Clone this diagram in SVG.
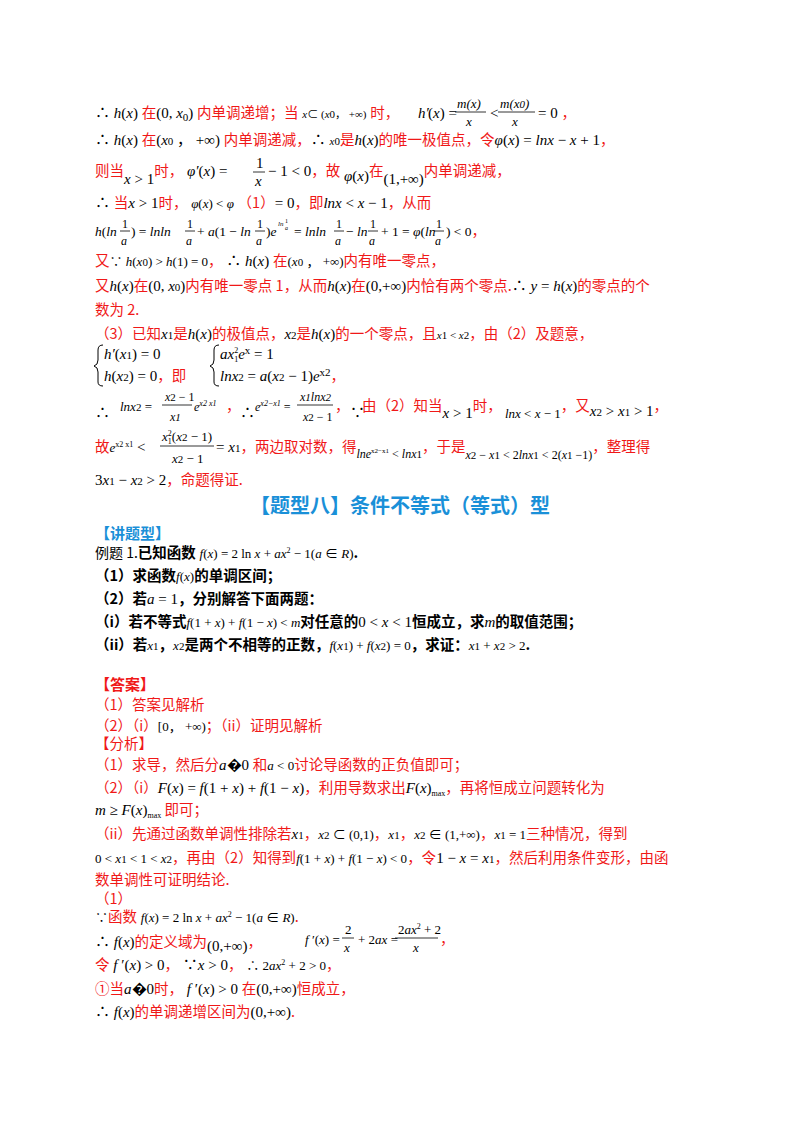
<svg xmlns="http://www.w3.org/2000/svg" width="800" height="1132" viewBox="0 0 800 1132" font-size="15">
<style>
text{font-family:"Liberation Serif","Noto Sans CJK SC",serif;fill:#000}
.r{fill:#f01818;font-family:"Noto Sans CJK SC",sans-serif;font-size:14.5px}
.m{font-style:italic}
.s{font-size:11px}
.b{font-weight:bold;font-family:"Noto Sans CJK SC",sans-serif;font-size:14.5px}
.bl{fill:#1a90d8;font-weight:bold;font-family:"Noto Sans CJK SC",sans-serif}
.f{font-size:12px}
line{stroke:#000;stroke-width:0.8}
.br{fill:none;stroke:#000;stroke-width:1}
</style>
<rect width="800" height="1132" fill="#fff"/>
<!-- line 1 -->
<text x="95" y="118">∴ <tspan class="m">h</tspan>(<tspan class="m">x</tspan>) <tspan class="r">在</tspan>(0, <tspan class="m">x</tspan><tspan class="s" dy="3">0</tspan><tspan dy="-3">)</tspan> <tspan class="r">内单调递增；当</tspan> <tspan class="m s">x</tspan><tspan class="s">⊂ (</tspan><tspan class="m s">x</tspan><tspan class="s">0，  +∞)</tspan> <tspan class="r">时，</tspan></text>
<text x="418" y="118" class="m">h′</text><text x="428" y="118">(<tspan class="m">x</tspan>) =</text>
<text x="457" y="108" class="m" font-size="13">m(x)</text><line x1="455" y1="112" x2="486" y2="112"/><text x="466" y="126" class="m" font-size="13">x</text>
<text x="490" y="118">&lt;</text>
<text x="500" y="108" class="m" font-size="13">m(x<tspan class="s">0</tspan>)</text><line x1="498" y1="112" x2="535" y2="112"/><text x="512" y="126" class="m" font-size="13">x</text>
<text x="538" y="118">= 0 <tspan class="r">，</tspan></text>
<!-- line 2 -->
<text x="95" y="145">∴ <tspan class="m">h</tspan>(<tspan class="m">x</tspan>) <tspan class="r">在</tspan>(<tspan class="m">x</tspan><tspan class="s">0</tspan> ，  +∞) <tspan class="r">内单调递减，</tspan>∴ <tspan class="m s">x</tspan><tspan class="s">0</tspan><tspan class="r">是</tspan><tspan class="m">h</tspan>(<tspan class="m">x</tspan>)<tspan class="r">的唯一极值点，令</tspan><tspan class="m">φ</tspan>(<tspan class="m">x</tspan>) = <tspan class="m">lnx</tspan> − <tspan class="m">x</tspan> + 1<tspan class="r">，</tspan></text>
<!-- line 3 -->
<text x="95" y="176"><tspan class="r">则当</tspan><tspan dy="8"><tspan class="m">x</tspan> &gt; 1</tspan><tspan dy="-8" class="r">时，</tspan> <tspan class="m">φ′</tspan>(<tspan class="m">x</tspan>) =</text>
<text x="256" y="168">1</text><line x1="253" y1="172" x2="265" y2="172"/><text x="255" y="186" class="m">x</text>
<text x="268" y="176">− 1 &lt; 0<tspan class="r">，故</tspan><tspan dy="5" class="m"> φ</tspan><tspan>(</tspan><tspan class="m">x</tspan>)<tspan dy="-5" class="r">在</tspan><tspan dy="8">(1,+∞)</tspan><tspan dy="-8" class="r">内单调递减，</tspan></text>
<!-- line 4 -->
<text x="95" y="208">∴ <tspan class="r">当</tspan><tspan class="m">x</tspan> &gt; 1<tspan class="r">时，</tspan> <tspan class="m" font-size="13">φ</tspan><tspan font-size="13">(</tspan><tspan class="m" font-size="13">x</tspan><tspan font-size="13">) &lt; </tspan><tspan class="m" font-size="13">φ</tspan> <tspan class="r">（1）</tspan>= 0<tspan class="r">，即</tspan><tspan class="m">lnx</tspan> &lt; <tspan class="m">x</tspan> − 1<tspan class="r">，从而</tspan></text>
<!-- line 5 -->
<g font-size="13.5">
<text x="95" y="236"><tspan class="m">h</tspan>(<tspan class="m">ln</tspan></text>
<text x="131" y="236">) = <tspan class="m">lnln</tspan></text>
<text x="197" y="236">+ <tspan class="m">a</tspan>(1 − <tspan class="m">ln</tspan></text>
<text x="266" y="236">)<tspan class="m">e</tspan></text>
<text x="278" y="226" font-size="7" class="m">ln</text><text x="285" y="223" font-size="6">1</text><text x="285" y="230" font-size="6" class="m">a</text>
<text x="294" y="236">= <tspan class="m">lnln</tspan></text>
<text x="346" y="236">− <tspan class="m">ln</tspan></text>
<text x="381" y="236">+ 1 = <tspan class="m">φ</tspan>(<tspan class="m">ln</tspan></text>
<text x="446" y="236">) &lt; 0<tspan class="r">，</tspan></text>
<text x="122" y="228" class="f">1</text><line x1="120" y1="231" x2="130" y2="231"/><text x="121" y="245" class="m f">a</text>
<text x="187" y="228" class="f">1</text><line x1="185" y1="231" x2="195" y2="231"/><text x="186" y="245" class="m f">a</text>
<text x="257" y="228" class="f">1</text><line x1="255" y1="231" x2="265" y2="231"/><text x="256" y="245" class="m f">a</text>
<text x="336" y="228" class="f">1</text><line x1="334" y1="231" x2="344" y2="231"/><text x="335" y="245" class="m f">a</text>
<text x="370" y="228" class="f">1</text><line x1="368" y1="231" x2="378" y2="231"/><text x="369" y="245" class="m f">a</text>
<text x="436" y="228" class="f">1</text><line x1="434" y1="231" x2="444" y2="231"/><text x="435" y="245" class="m f">a</text>
</g>
<!-- line 6 -->
<text x="95" y="266"><tspan class="r">又</tspan><tspan font-size="13">∵ <tspan class="m">h</tspan>(<tspan class="m">x</tspan><tspan class="s">0</tspan>) &gt; <tspan class="m">h</tspan>(1) = 0</tspan><tspan class="r">，</tspan> ∴ <tspan class="m">h</tspan>(<tspan class="m">x</tspan>) <tspan class="r">在</tspan><tspan font-size="13">(<tspan class="m">x</tspan><tspan class="s">0</tspan> ，  +∞)</tspan><tspan class="r">内有唯一零点，</tspan></text>
<!-- line 7 -->
<text x="95" y="291"><tspan class="r">又</tspan><tspan class="m">h</tspan>(<tspan class="m">x</tspan>)<tspan class="r">在</tspan>(0, <tspan class="m">x</tspan><tspan class="s">0</tspan>)<tspan class="r">内有唯一零点 1，从而</tspan><tspan class="m">h</tspan>(<tspan class="m">x</tspan>)<tspan class="r">在</tspan>(0,+∞)<tspan class="r">内恰有两个零点.</tspan>∴ <tspan class="m">y</tspan> = <tspan class="m">h</tspan>(<tspan class="m">x</tspan>)<tspan class="r">的零点的个</tspan></text>
<text x="95" y="315" class="r">数为 2.</text>
<!-- (3) -->
<text x="95" y="339"><tspan class="r">（3）已知</tspan><tspan class="m">x</tspan><tspan class="s">1</tspan><tspan class="r">是</tspan><tspan class="m">h</tspan>(<tspan class="m">x</tspan>)<tspan class="r">的极值点，</tspan><tspan class="m">x</tspan><tspan class="s">2</tspan><tspan class="r">是</tspan><tspan class="m">h</tspan>(<tspan class="m">x</tspan>)<tspan class="r">的一个零点，且</tspan><tspan class="m s">x</tspan><tspan class="s">1 &lt; </tspan><tspan class="m s">x</tspan><tspan class="s">2</tspan><tspan class="r">，由（2）及题意，</tspan></text>
<path class="br" d="M103 345 Q98 345 98 350 L98 360 Q98 365 94 366 Q98 367 98 372 L98 382 Q98 386 103 386"/>
<text x="104" y="359"><tspan class="m">h′</tspan>(<tspan class="m">x</tspan><tspan class="s">1</tspan>) = 0</text>
<text x="104" y="381"><tspan class="m">h</tspan>(<tspan class="m">x</tspan><tspan class="s">2</tspan>) = 0<tspan class="r">，即</tspan></text>
<path class="br" d="M219 345 Q214 345 214 350 L214 360 Q214 365 210 366 Q214 367 214 372 L214 382 Q214 386 219 386"/>
<text x="220" y="359"><tspan class="m">ax</tspan><tspan font-size="8" dy="-6">2</tspan><tspan font-size="8" dx="-4" dy="9">1</tspan><tspan class="m" dy="-3">e</tspan><tspan class="s" dy="-5">x</tspan><tspan dy="5">  = 1</tspan></text>
<text x="220" y="381"><tspan class="m">lnx</tspan><tspan class="s">2</tspan> = <tspan class="m">a</tspan>(<tspan class="m">x</tspan><tspan class="s">2</tspan> − 1)<tspan class="m">e</tspan><tspan class="s" dy="-5">x2</tspan><tspan dy="5" class="r">，</tspan></text>
<!-- line 11 -->
<text x="95" y="418">∴</text>
<text x="120" y="411" font-size="13"><tspan class="m">lnx</tspan><tspan class="s">2</tspan> =</text>
<text x="165" y="401" font-size="12"><tspan class="m">x</tspan><tspan class="s">2</tspan> − 1</text><line x1="162" y1="405" x2="192" y2="405"/><text x="170" y="421" font-size="12" class="m">x<tspan class="s">1</tspan></text>
<text x="194" y="411" font-size="12" class="m">e<tspan font-size="8" dy="-5">x2  x1</tspan></text>
<text x="226" y="411" class="r">，</text>
<text x="240" y="418">∴</text>
<text x="255" y="411" font-size="12" class="m">e<tspan font-size="8" dy="-5">x2−x1</tspan><tspan dy="5" font-style="normal"> =</tspan></text>
<text x="300" y="401" font-size="12" class="m">x<tspan class="s">1</tspan>lnx<tspan class="s">2</tspan></text><line x1="297" y1="405" x2="333" y2="405"/><text x="303" y="421" font-size="12"><tspan class="m">x</tspan><tspan class="s">2</tspan> − 1</text>
<text x="335" y="411" class="r">，</text>
<text x="350" y="418">∵</text>
<text x="362" y="411"><tspan class="r">由（2）知当</tspan><tspan dy="7"><tspan class="m">x</tspan> &gt; 1</tspan><tspan dy="-7" class="r">时，</tspan><tspan dy="7" font-size="13"> <tspan class="m">lnx</tspan> &lt; <tspan class="m">x</tspan> − 1</tspan><tspan dy="-7" class="r">，又</tspan><tspan dy="5"><tspan class="m">x</tspan><tspan class="s">2</tspan> &gt; <tspan class="m">x</tspan><tspan class="s">1</tspan> &gt; 1</tspan><tspan dy="-5" class="r">，</tspan></text>
<!-- line 12 -->
<text x="95" y="452"><tspan class="r">故</tspan><tspan class="m" font-size="13">e</tspan><tspan font-size="8" dy="-5">x2  x1</tspan><tspan dy="5"> &lt;</tspan></text>
<text x="162" y="441" font-size="13"><tspan class="m">x</tspan><tspan font-size="8" dy="-5">2</tspan><tspan font-size="8" dx="-4" dy="8">1</tspan><tspan dy="-3">(</tspan><tspan class="m">x</tspan><tspan class="s">2</tspan> − 1)</text><line x1="160" y1="446" x2="214" y2="446"/><text x="172" y="463" font-size="13"><tspan class="m">x</tspan><tspan class="s">2</tspan> − 1</text>
<text x="216" y="452">= <tspan class="m">x</tspan><tspan class="s">1</tspan><tspan class="r">，两边取对数，得</tspan><tspan font-size="12" dy="6"><tspan class="m">lne</tspan><tspan font-size="7" dy="-5">x2−x1</tspan><tspan dy="5"> &lt; </tspan><tspan class="m">lnx</tspan><tspan class="s">1</tspan></tspan><tspan dy="-6" class="r">，于是</tspan><tspan font-size="12" dy="7"><tspan class="m">x</tspan><tspan class="s">2</tspan> − <tspan class="m">x</tspan><tspan class="s">1</tspan> &lt; 2<tspan class="m">lnx</tspan><tspan class="s">1</tspan> &lt; 2(<tspan class="m">x</tspan><tspan class="s">1</tspan> −1)</tspan><tspan dy="-7" class="r">，整理得</tspan></text>
<text x="95" y="485">3<tspan class="m">x</tspan><tspan class="s">1</tspan> − <tspan class="m">x</tspan><tspan class="s">2</tspan> &gt; 2<tspan class="r">，命题得证.</tspan></text>
<!-- title -->
<text x="400" y="513" class="bl" font-size="20" text-anchor="middle">【题型八】条件不等式（等式）型</text>
<text x="95" y="539" class="bl" font-size="15">【讲题型】</text>
<text x="95" y="558"><tspan font-family="Noto Sans CJK SC" font-size="14">例题 1.</tspan><tspan class="b">已知函数</tspan> <tspan class="m" font-size="13">f</tspan><tspan font-size="13">(</tspan><tspan class="m" font-size="13">x</tspan><tspan font-size="13">) = 2 ln </tspan><tspan class="m" font-size="13">x</tspan><tspan font-size="13"> + </tspan><tspan class="m" font-size="13">ax</tspan><tspan font-size="8" dy="-5">2</tspan><tspan font-size="13" dy="5"> − 1(</tspan><tspan class="m" font-size="13">a</tspan><tspan font-size="13"> ∈ </tspan><tspan class="m" font-size="13">R</tspan><tspan font-size="13">)</tspan><tspan class="b">.</tspan></text>
<text x="95" y="581"><tspan class="b">（1）求函数</tspan><tspan class="m" font-size="13">f</tspan><tspan font-size="13">(</tspan><tspan class="m" font-size="13">x</tspan><tspan font-size="13">)</tspan><tspan class="b">的单调区间；</tspan></text>
<text x="95" y="604"><tspan class="b">（2）若</tspan><tspan class="m">a</tspan> = 1<tspan class="b">，分别解答下面两题：</tspan></text>
<text x="95" y="627"><tspan class="b">（i）若不等式</tspan><tspan font-size="13"><tspan class="m">f</tspan>(1 + <tspan class="m">x</tspan>) + <tspan class="m">f</tspan>(1 − <tspan class="m">x</tspan>) &lt; <tspan class="m">m</tspan></tspan><tspan class="b">对任意的</tspan>0 &lt; <tspan class="m">x</tspan> &lt; 1<tspan class="b">恒成立，求</tspan><tspan class="m">m</tspan><tspan class="b">的取值范围；</tspan></text>
<text x="95" y="650"><tspan class="b">（ii）若</tspan><tspan class="m" font-size="13">x</tspan><tspan class="s">1</tspan><tspan class="b">，</tspan><tspan class="m" font-size="13">x</tspan><tspan class="s">2</tspan><tspan class="b">是两个不相等的正数，</tspan><tspan font-size="13"><tspan class="m">f</tspan>(<tspan class="m">x</tspan><tspan class="s">1</tspan>) + <tspan class="m">f</tspan>(<tspan class="m">x</tspan><tspan class="s">2</tspan>) = 0</tspan><tspan class="b">，求证：</tspan><tspan font-size="13"><tspan class="m">x</tspan><tspan class="s">1</tspan> + <tspan class="m">x</tspan><tspan class="s">2</tspan> &gt; 2</tspan><tspan class="b">.</tspan></text>
<text x="95" y="690" class="r" font-weight="bold" style="font-size:15px">【答案】</text>
<text x="95" y="710" class="r">（1）答案见解析</text>
<text x="95" y="731"><tspan class="r">（2）（i）</tspan><tspan font-size="13">[0，  +∞)</tspan><tspan class="r">；（ii）证明见解析</tspan></text>
<text x="95" y="749" class="r">【分析】</text>
<text x="95" y="770"><tspan class="r">（1）求导，然后分</tspan><tspan class="m">a</tspan>�0 <tspan class="r">和</tspan><tspan font-size="13"><tspan class="m">a</tspan> &lt; 0</tspan><tspan class="r">讨论导函数的正负值即可；</tspan></text>
<text x="95" y="793"><tspan class="r">（2）（i）</tspan><tspan class="m">F</tspan>(<tspan class="m">x</tspan>) = <tspan class="m">f</tspan>(1 + <tspan class="m">x</tspan>) + <tspan class="m">f</tspan>(1 − <tspan class="m">x</tspan>)<tspan class="r">，利用导数求出</tspan><tspan class="m">F</tspan>(<tspan class="m">x</tspan>)<tspan font-size="8" dy="3">max</tspan><tspan dy="-3" class="r">，再将恒成立问题转化为</tspan></text>
<text x="95" y="815"><tspan class="m">m</tspan> ≥ <tspan class="m">F</tspan>(<tspan class="m">x</tspan>)<tspan font-size="8" dy="3">max</tspan><tspan dy="-3" class="r"> 即可；</tspan></text>
<text x="95" y="839"><tspan class="r">（ii）先通过函数单调性排除若</tspan><tspan class="m">x</tspan><tspan class="s">1</tspan><tspan class="r">，</tspan><tspan font-size="13"><tspan class="m">x</tspan><tspan class="s">2</tspan> ⊂ (0,1)</tspan><tspan class="r">，</tspan><tspan class="m" font-size="13">x</tspan><tspan class="s">1</tspan><tspan class="r">，</tspan><tspan font-size="13"><tspan class="m">x</tspan><tspan class="s">2</tspan> ∈ (1,+∞)</tspan><tspan class="r">，</tspan><tspan font-size="13"><tspan class="m">x</tspan><tspan class="s">1</tspan> = 1</tspan><tspan class="r">三种情况，得到</tspan></text>
<text x="95" y="863"><tspan font-size="13">0 &lt; <tspan class="m">x</tspan><tspan class="s">1</tspan> &lt; 1 &lt; <tspan class="m">x</tspan><tspan class="s">2</tspan></tspan><tspan class="r">，再由（2）知得到</tspan><tspan font-size="13"><tspan class="m">f</tspan>(1 + <tspan class="m">x</tspan>) + <tspan class="m">f</tspan>(1 − <tspan class="m">x</tspan>) &lt; 0</tspan><tspan class="r">，令</tspan>1 − <tspan class="m">x</tspan> = <tspan class="m">x</tspan><tspan class="s">1</tspan><tspan class="r">，然后利用条件变形，由函</tspan></text>
<text x="95" y="885" class="r">数单调性可证明结论.</text>
<text x="95" y="904" class="r">（1）</text>
<text x="95" y="922"><tspan font-size="13">∵</tspan><tspan class="r">函数</tspan> <tspan font-size="13"><tspan class="m">f</tspan>(<tspan class="m">x</tspan>) = 2 ln <tspan class="m">x</tspan> + <tspan class="m">ax</tspan><tspan font-size="8" dy="-5">2</tspan><tspan dy="5"> − 1(</tspan><tspan class="m">a</tspan> ∈ <tspan class="m">R</tspan>)</tspan><tspan class="r">.</tspan></text>
<text x="95" y="947">∴ <tspan class="m">f</tspan>(<tspan class="m">x</tspan>)<tspan class="r">的定义域为</tspan><tspan dy="4">(0,+∞)</tspan><tspan dy="-4" class="r">，</tspan></text>
<text x="305" y="944" font-size="13"><tspan class="m">f</tspan> ′(<tspan class="m">x</tspan>) =</text>
<text x="345" y="934" font-size="13">2</text><line x1="342" y1="938" x2="354" y2="938"/><text x="344" y="952" font-size="13" class="m">x</text>
<text x="358" y="944" font-size="13">+ 2<tspan class="m">ax</tspan> =</text>
<text x="398" y="934" font-size="13">2<tspan class="m">ax</tspan><tspan font-size="8" dy="-5">2</tspan><tspan dy="5"> + 2</tspan></text><line x1="395" y1="938" x2="438" y2="938"/><text x="413" y="952" font-size="13" class="m">x</text>
<text x="440" y="944" class="r">，</text>
<text x="95" y="970"><tspan class="r">令</tspan> <tspan class="m">f</tspan> ′(<tspan class="m">x</tspan>) &gt; 0<tspan class="r">，</tspan> ∵<tspan class="m">x</tspan> &gt; 0<tspan class="r">，</tspan> <tspan font-size="13">∴ 2<tspan class="m">ax</tspan><tspan font-size="8" dy="-5">2</tspan><tspan dy="5"> + 2 &gt; 0</tspan></tspan><tspan class="r">，</tspan></text>
<text x="95" y="994"><tspan class="r">①当</tspan><tspan class="m">a</tspan>�0<tspan class="r">时，</tspan> <tspan class="m">f</tspan> ′(<tspan class="m">x</tspan>) &gt; 0 <tspan class="r">在</tspan>(0,+∞)<tspan class="r">恒成立，</tspan></text>
<text x="95" y="1017">∴ <tspan class="m">f</tspan>(<tspan class="m">x</tspan>)<tspan class="r">的单调递增区间为</tspan>(0,+∞)<tspan class="r">.</tspan></text>
</svg>
